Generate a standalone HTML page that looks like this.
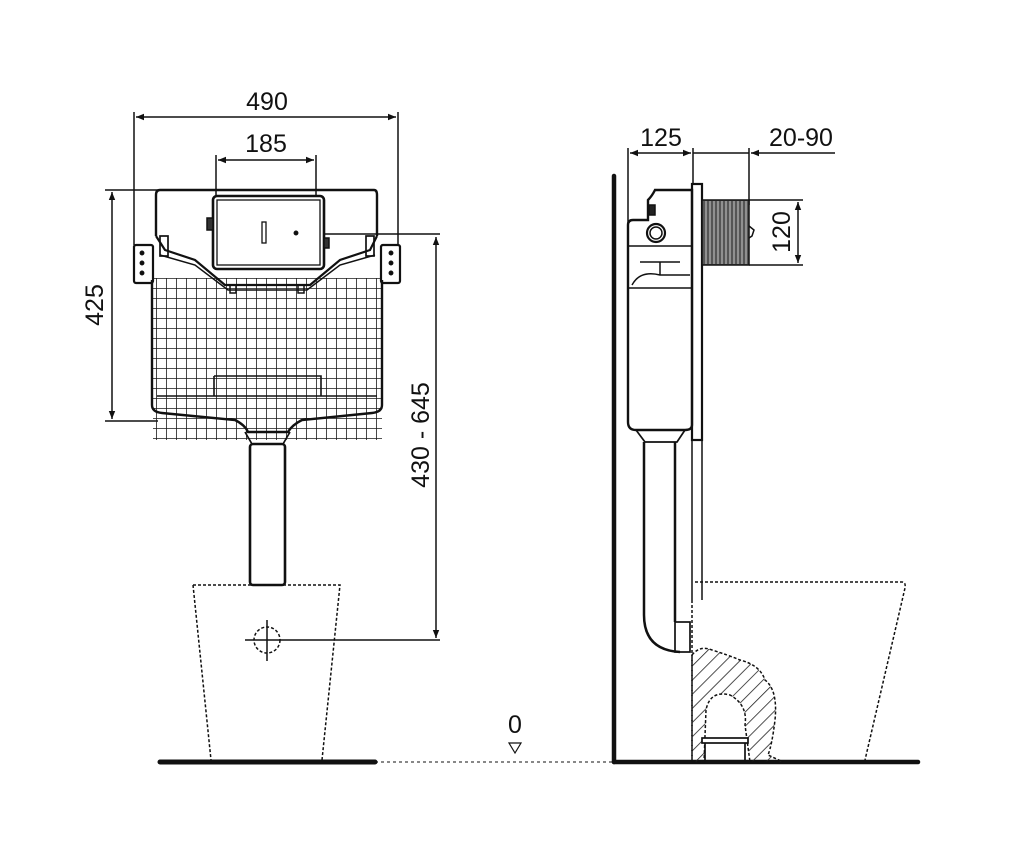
<!DOCTYPE html>
<html><head><meta charset="utf-8"><style>
html,body{margin:0;padding:0;background:#fff;}
svg{display:block;}
text{font-family:"Liberation Sans",sans-serif;fill:#111;}
</style></head><body>
<svg width="1024" height="857" viewBox="0 0 1024 857" xmlns="http://www.w3.org/2000/svg">
<defs>
<marker id="a" viewBox="0 0 10 10" refX="10" refY="5" markerWidth="11" markerHeight="8" orient="auto-start-reverse" markerUnits="userSpaceOnUse"><path d="M0,1 L10,5 L0,9 Z" fill="#111"/></marker>
<pattern id="grid" width="10" height="10" patternUnits="userSpaceOnUse" x="156" y="278"><path d="M0,0 V10 M0,0 H10" stroke="#1a1a1a" stroke-width="1.6" fill="none"/></pattern>
<pattern id="hatch" width="10" height="10" patternUnits="userSpaceOnUse" patternTransform="rotate(45)"><path d="M0,0 V10" stroke="#222" stroke-width="1.6"/></pattern>
</defs>
<g stroke="#111" fill="none" stroke-width="1.5">
<line x1="134" y1="112" x2="134" y2="245"/>
<line x1="398" y1="112" x2="398" y2="245"/>
<line x1="136" y1="117" x2="396" y2="117" marker-start="url(#a)" marker-end="url(#a)"/>
<line x1="216" y1="155" x2="216" y2="195"/>
<line x1="316" y1="155" x2="316" y2="195"/>
<line x1="218" y1="160" x2="314" y2="160" marker-start="url(#a)" marker-end="url(#a)"/>
<line x1="105" y1="190" x2="158" y2="190"/>
<line x1="105" y1="421" x2="158" y2="421"/>
<line x1="112" y1="192" x2="112" y2="419" marker-start="url(#a)" marker-end="url(#a)"/>
<line x1="322" y1="234" x2="440" y2="234"/>
<line x1="245" y1="640" x2="440" y2="640"/>
<line x1="436" y1="237" x2="436" y2="638" marker-start="url(#a)" marker-end="url(#a)"/>
<rect x="153" y="278" width="229" height="162" fill="url(#grid)" stroke="none"/>
<path d="M160,190 H374 Q377,190 377,195 V236 M160,190 Q156,190 156,195 V236" stroke-width="2.4"/>
<path d="M152,280 V405 Q152,412 162,413 L235,420 Q245,425 248,432 H288 Q292,425 302,420 L372,413 Q382,412 382,405 V280" stroke-width="2.4"/>
<path d="M157,396 H377 M214,376 H321 V396 M214,376 V396" stroke-width="1.6"/>
<path d="M156,236 L165,250 L195,260 L225,285 H310 L340,260 L370,250 L377,236" stroke-width="2.2"/>
<path d="M160,255 L195,265 L228,290 H307 L340,265 L375,255" stroke-width="1.5"/>
<rect x="160" y="236" width="8" height="20" stroke-width="1.7"/>
<rect x="366" y="236" width="8" height="20" stroke-width="1.7"/>
<rect x="134" y="245" width="19" height="38" rx="2" stroke-width="2.2"/>
<rect x="381" y="245" width="19" height="38" rx="2" stroke-width="2.2"/>
<circle cx="142" cy="253" r="1.7" fill="#111"/><circle cx="142" cy="263" r="1.7" fill="#111"/><circle cx="142" cy="273" r="1.7" fill="#111"/>
<circle cx="391" cy="253" r="1.7" fill="#111"/><circle cx="391" cy="263" r="1.7" fill="#111"/><circle cx="391" cy="273" r="1.7" fill="#111"/>
<rect x="213" y="196" width="111" height="73" rx="4" fill="#fff" stroke-width="2.6"/>
<rect x="217" y="200" width="103" height="65" stroke-width="1.3"/>
<rect x="262" y="222" width="4" height="21" stroke-width="1.3"/>
<circle cx="296" cy="233" r="1.7" fill="#111"/>
<rect x="207" y="218" width="6" height="12" fill="#333"/>
<rect x="324" y="238" width="5" height="10" fill="#333"/>
<rect x="230" y="285" width="6" height="8"/><rect x="298" y="285" width="6" height="8"/>
<path d="M245,432 L252,444 H283 L290,432" stroke-width="1.7"/>
<rect x="250" y="444" width="35" height="141" rx="3" fill="#fff" stroke-width="2.6"/>
<path d="M193,585 H340 L322,760 M193,585 L211,760" stroke-dasharray="3,2" stroke-width="1.5"/>
<circle cx="267" cy="640" r="13" stroke-dasharray="3,2"/>
<line x1="267" y1="620" x2="267" y2="661"/>
<line x1="160" y1="762" x2="375" y2="762" stroke-width="5" stroke-linecap="round"/>
<line x1="375" y1="762" x2="614" y2="762" stroke-dasharray="3,3" stroke-width="1"/>
<path d="M509,743 H521 L515,753 Z" stroke-width="1.2"/>

<line x1="614" y1="176" x2="614" y2="762" stroke-width="4.5" stroke-linecap="round"/>
<line x1="614" y1="762" x2="918" y2="762" stroke-width="4.5" stroke-linecap="round"/>
<line x1="628" y1="148" x2="628" y2="230"/>
<line x1="693" y1="148" x2="693" y2="185"/>
<line x1="749" y1="148" x2="749" y2="205"/>
<line x1="630" y1="153" x2="691" y2="153" marker-start="url(#a)" marker-end="url(#a)"/>
<line x1="693" y1="153" x2="749" y2="153"/>
<line x1="835" y1="153" x2="751" y2="153" marker-end="url(#a)"/>
<line x1="749" y1="200" x2="803" y2="200"/>
<line x1="749" y1="265" x2="803" y2="265"/>
<line x1="798" y1="202" x2="798" y2="263" marker-start="url(#a)" marker-end="url(#a)"/>
<path d="M660,190 H692 V425 Q692,430 685,430 H636 Q628,430 628,422 V225 Q628,220 633,220 H648 V200 Q652,196 655,190 Z" stroke-width="2.4"/>
<rect x="649" y="205" width="6" height="10" fill="#222"/>
<circle cx="656" cy="233" r="9" stroke-width="2.2"/><circle cx="656" cy="233" r="6"/>
<line x1="628" y1="246" x2="692" y2="246"/>
<line x1="628" y1="288" x2="692" y2="288"/>
<path d="M640,262 H680 M660,262 V275 H690 M632,285 Q640,270 660,275"/>
<rect x="692" y="184" width="10" height="256" stroke-width="2.2"/>
<line x1="692" y1="440" x2="692" y2="600"/><line x1="702" y1="440" x2="702" y2="600"/>
<rect x="702" y="200" width="47" height="65" fill="#555" stroke-width="1.5"/>
<path d="M706,201V264M710,201V264M714,201V264M718,201V264M722,201V264M726,201V264M730,201V264M734,201V264M738,201V264M742,201V264M746,201V264" stroke="#ccc" stroke-width="1"/>
<path d="M749,226 L754,230 L752,236 L749,238" stroke-width="1.5"/>
<path d="M636,430 L645,442 H677 L685,430" stroke-width="1.7"/>
<path d="M644,442 V615 Q644,650 680,652" stroke-width="2.5"/>
<path d="M675,442 V622" stroke-width="2.5"/>
<rect x="675" y="622" width="15" height="30" stroke-width="1.7"/>
<path d="M692,600 V762 M695,582 H902 Q906,582 905,588 L865,760" stroke-dasharray="3,2"/>
<path d="M692,655 Q700,645 712,650 Q728,655 740,660 Q760,665 765,680 Q778,690 775,720 Q772,745 768,755 L783,762 L750,762 L745,725 Q748,705 730,695 Q710,690 706,710 L704,762 H692 Z" fill="url(#hatch)" stroke-dasharray="3,2"/>
<rect x="702" y="738" width="46" height="5" fill="#fff" stroke-width="1.7"/>
<line x1="705" y1="743" x2="705" y2="762" stroke-width="1.7"/><line x1="745" y1="743" x2="745" y2="762" stroke-width="1.7"/>
</g>
<g font-size="25">
<text x="267" y="110" text-anchor="middle">490</text>
<text x="266" y="152" text-anchor="middle">185</text>
<text x="661" y="146" text-anchor="middle">125</text>
<text x="801" y="146" text-anchor="middle">20-90</text>
<text x="515" y="733" text-anchor="middle">0</text>
<text transform="translate(103,305) rotate(-90)" text-anchor="middle">425</text>
<text transform="translate(429,435) rotate(-90)" text-anchor="middle">430 - 645</text>
<text transform="translate(790,232) rotate(-90)" text-anchor="middle">120</text>
</g>
</svg>
</body></html>
